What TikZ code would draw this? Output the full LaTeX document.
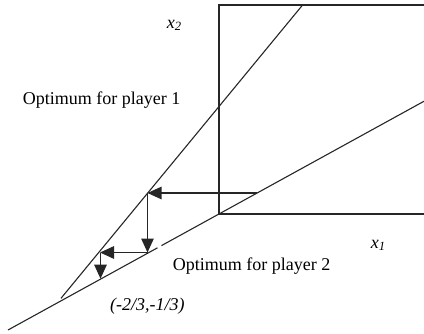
\documentclass[tikz,border=0pt]{standalone}
\usepackage{fontspec}
\setmainfont{Liberation Serif}
\usetikzlibrary{arrows.meta}
\tikzset{
  ln/.style={line width=1.1pt, black!85},
  arr/.style={ln, -{Triangle[length=14pt,width=12.5pt]}},
  lbl/.style={inner sep=0pt, anchor=base west, font=\fontsize{18}{21}\selectfont},
}
\begin{document}
\begin{tikzpicture}[x=1pt,y=1pt]
\useasboundingbox (0,0) rectangle (424,333);
% box (axes)
\coordinate (O) at (219,119);
\coordinate (TL) at (219,328);
\coordinate (TR) at (425,328);
\coordinate (BR) at (425,119);
\draw[ln] (TR) -- (TL) -- (O) -- (BR);
% optimum line of player 1
\coordinate (L1a) at (61,34.7);
\coordinate (L1b) at (302.6,328);
\draw[ln] (L1a) -- (L1b);
% optimum line of player 2 (with a small gap)
\coordinate (L2a) at (8,3);
\coordinate (G1) at (157.5,85.2);
\coordinate (G2) at (161.5,87.4);
\coordinate (L2b) at (425,232.3);
\draw[ln] (L2a) -- (G1);
\draw[ln] (G2) -- (L2b);
% best response steps
\coordinate (P1) at (257,140);
\coordinate (Q1) at (147.5,140);
\coordinate (P2) at (147.5,80.5);
\coordinate (Q2) at (100,80.5);
\coordinate (S2) at (100.5,80.5);
\coordinate (P3) at (100.5,54.3);
\draw[arr] (P1) -- (Q1);
\draw[arr] (Q1) -- (P2);
\draw[arr] (P2) -- (Q2);
\draw[arr] (S2) -- (P3);
% labels
\node[lbl] (x2) at (166.7,304.7) {\itshape x\textsubscript{2}};
\node[lbl] (x1) at (370.7,84.7) {\itshape x\textsubscript{1}};
\node[lbl] (o1) at (22.7,229) {Optimum for player 1};
\node[lbl] (o2) at (172.7,63) {Optimum for player 2};
\node[lbl] (pt) at (110,23) {\itshape (-2/3,-1/3)};
\end{tikzpicture}
\end{document}
